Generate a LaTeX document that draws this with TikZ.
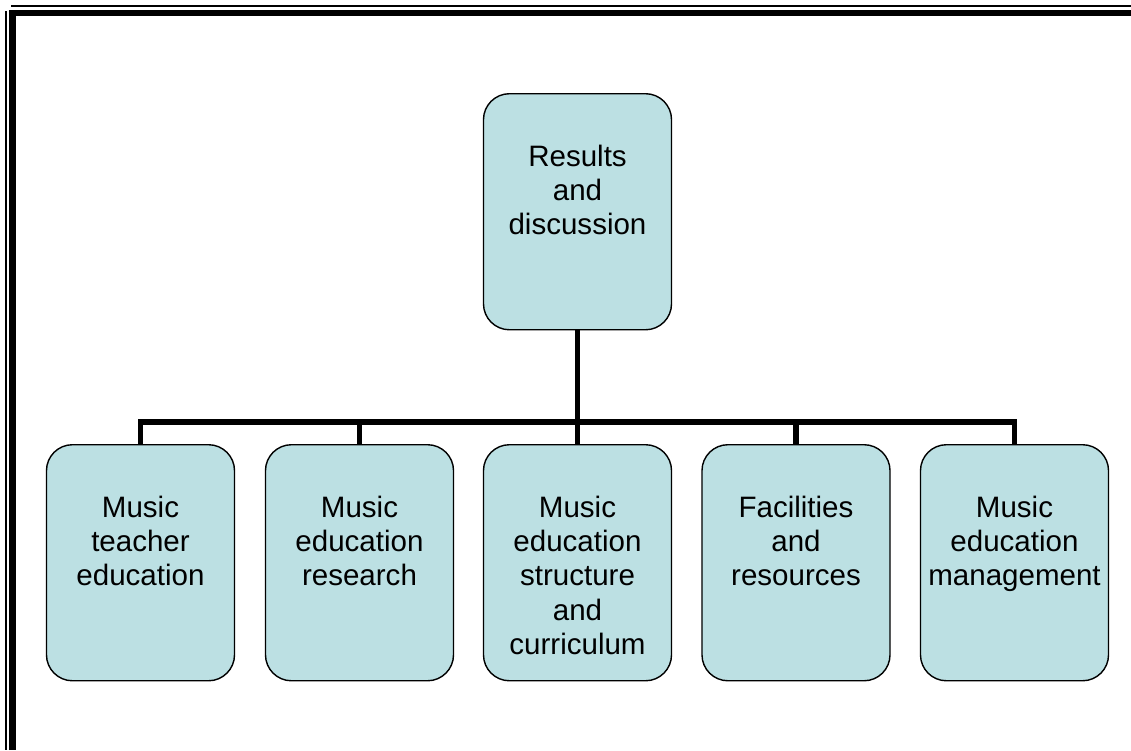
\documentclass[tikz,border=0pt]{standalone}
\usepackage{fontspec}
\setmainfont{Liberation Sans}
\usetikzlibrary{positioning}
\definecolor{boxfill}{RGB}{188,224,227}
% text set from the top of a box
\newcommand{\boxtext}[2][1.83cm]{\parbox[c][5.9cm][t]{4.6cm}{\centering\rule{0pt}{#1}#2}}
\tikzset{
    topic/.style={draw, line width=1pt, rounded corners=0.65cm, fill=boxfill, anchor=north, inner sep=0pt, minimum width=4.7cm, minimum height=5.9cm},
    bus/.style={line width=3.9pt, line join=miter}
}
\begin{document}
\begin{tikzpicture}[x=0.025cm,y=-0.025cm, every node/.style={font=\fontsize{21}{24.2}\selectfont}]
    \useasboundingbox (0,0) rectangle (1131,750);
    % frame
    \draw[line width=1.4pt] (11,6) -- (1131,6);
    \draw[line width=1.4pt] (5.6,11) -- (5.6,750);
    \draw[line width=4.6pt, line join=miter] (12.5,750) -- (12.5,13) -- (1131,13);
    % boxes
    \node[topic] (res) at (577.5,93) {\boxtext{Results\\and\\discussion}};
    \node[topic] (teach) at (140.5,444) {\boxtext{Music\\teacher\\education}};
    \node[topic] (research) at (359.5,444) {\boxtext{Music\\education\\research}};
    \node[topic] (curric) at (577.5,444) {\boxtext{Music\\education\\structure\\and\\curriculum}};
    \node[topic] (facil) at (796,444) {\boxtext{Facilities\\and\\resources}};
    \node[topic] (manage) at (1014.5,444) {\boxtext{Music\\education\\management}};
    \coordinate (busy) at (577.5,422);
    % connectors
    \draw[bus] (res.south) -- (curric.north);
    \draw[bus] (teach.north) -- (teach.north |- busy) -- (manage.north |- busy) -- (manage.north);
    \draw[bus] (research.north) -- (research.north |- busy);
    \draw[bus] (facil.north) -- (facil.north |- busy);
\end{tikzpicture}
\end{document}
